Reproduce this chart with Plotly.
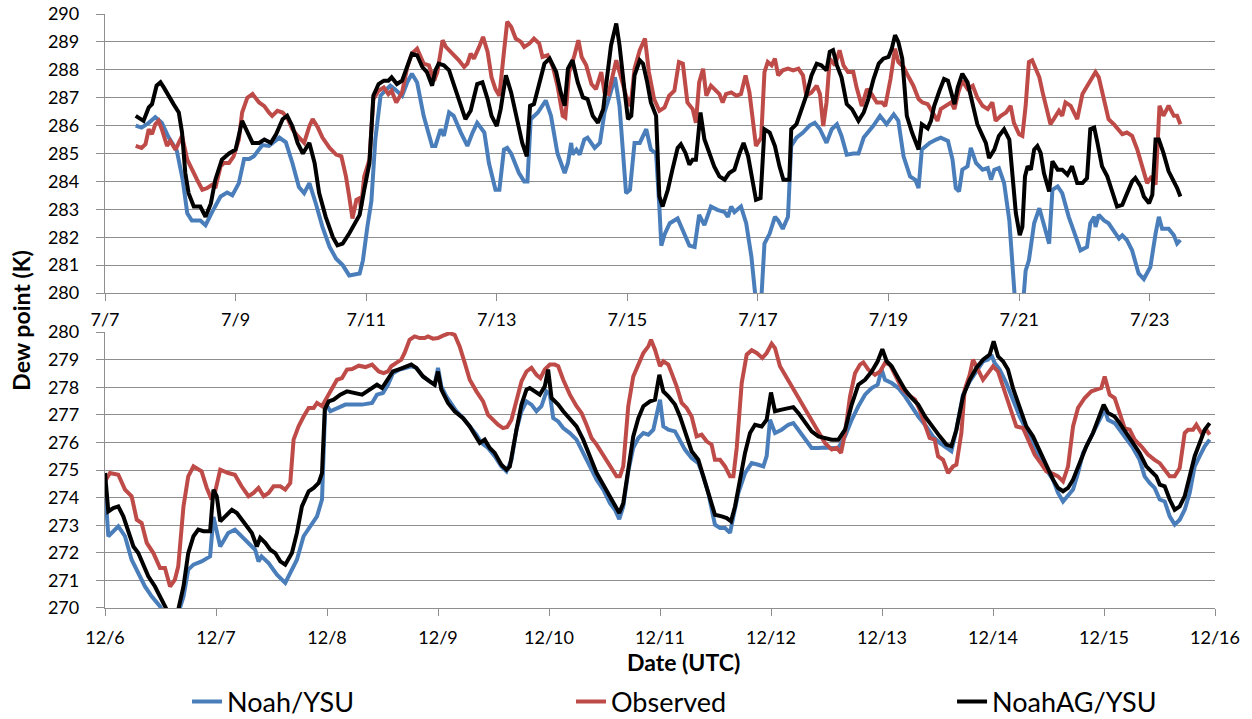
import pandas as pd
import plotly.graph_objects as go

# ---------------------------------------------------------------------------
# Dew point time series (K).  Each entry is (days since period start, value).
# ---------------------------------------------------------------------------
JULY_START = pd.Timestamp("2012-07-07")
DEC_START = pd.Timestamp("2012-12-06")

series_names = ["Noah/YSU", "Observed", "NoahAG/YSU"]

july_tick_labels = ["7/7", "7/9", "7/11", "7/13", "7/15", "7/17", "7/19", "7/21", "7/23"]
dec_tick_labels = ["12/6", "12/7", "12/8", "12/9", "12/10", "12/11", "12/12",
                   "12/13", "12/14", "12/15", "12/16"]

july_noah = [
    (0.47, 286.0), (0.56, 285.93), (0.67, 286.1), (0.77, 286.3), (0.87, 286.1), (0.97, 285.6),
    (1.10, 285.1), (1.19, 284.06), (1.26, 282.86), (1.33, 282.6), (1.46, 282.6), (1.54, 282.43),
    (1.64, 282.9), (1.77, 283.46), (1.87, 283.6), (1.95, 283.5), (2.05, 283.94), (2.13, 284.8),
    (2.21, 284.8), (2.28, 284.9), (2.41, 285.3), (2.51, 285.27), (2.67, 285.57), (2.77, 285.4),
    (2.87, 284.66), (2.97, 283.8), (3.05, 283.58), (3.13, 283.94), (3.23, 283.2), (3.33, 282.37),
    (3.44, 281.65), (3.54, 281.23), (3.64, 281.0), (3.74, 280.63), (3.90, 280.7), (3.95, 281.17),
    (4.02, 282.4), (4.08, 283.3), (4.14, 285.5), (4.22, 287.07), (4.29, 287.25), (4.37, 287.43),
    (4.44, 287.3), (4.55, 287.07), (4.63, 287.55), (4.70, 287.86), (4.78, 287.55), (4.88, 286.35),
    (5.01, 285.27), (5.06, 285.27), (5.14, 285.87), (5.19, 285.63), (5.27, 286.47), (5.34, 286.35),
    (5.45, 285.75), (5.55, 285.27), (5.63, 285.75), (5.70, 286.1), (5.81, 285.75), (5.88, 284.66),
    (5.98, 283.7), (6.04, 283.7), (6.11, 285.14), (6.16, 285.2), (6.22, 285.0), (6.34, 284.3),
    (6.42, 284.0), (6.47, 284.0), (6.52, 286.23), (6.63, 286.47), (6.75, 286.9), (6.83, 286.35),
    (6.93, 285.0), (7.04, 284.3), (7.09, 284.66), (7.14, 285.38), (7.16, 284.96), (7.22, 285.14),
    (7.27, 284.96), (7.34, 285.5), (7.39, 285.57), (7.50, 285.2), (7.58, 285.38), (7.65, 286.47),
    (7.73, 287.07), (7.81, 287.73), (7.88, 286.7), (7.98, 283.58), (8.04, 283.7), (8.11, 285.38),
    (8.19, 285.38), (8.29, 285.87), (8.36, 285.14), (8.44, 285.0), (8.49, 283.1), (8.52, 281.7),
    (8.57, 282.1), (8.65, 282.5), (8.77, 282.67), (8.87, 282.13), (8.95, 281.7), (9.03, 281.65),
    (9.10, 282.8), (9.18, 282.43), (9.28, 283.1), (9.38, 282.98), (9.49, 282.9), (9.54, 282.73),
    (9.59, 283.1), (9.64, 282.9), (9.74, 283.1), (9.82, 282.5), (9.90, 281.3), (9.96, 279.9),
    (9.98, 279.3), (10.04, 279.3), (10.06, 280.0), (10.10, 281.77), (10.18, 282.13), (10.26, 282.73),
    (10.31, 282.6), (10.38, 282.3), (10.46, 282.73), (10.51, 285.27), (10.59, 285.57), (10.69, 285.75),
    (10.79, 286.0), (10.87, 286.1), (10.95, 285.87), (11.05, 285.38), (11.13, 285.87), (11.21, 286.05),
    (11.28, 285.63), (11.36, 284.96), (11.46, 285.0), (11.54, 285.0), (11.62, 285.57), (11.69, 285.75),
    (11.77, 286.0), (11.87, 286.35), (11.97, 286.05), (12.08, 286.4), (12.15, 286.17), (12.23, 284.9),
    (12.33, 284.18), (12.41, 284.06), (12.46, 283.76), (12.51, 285.14), (12.63, 285.38), (12.73, 285.5),
    (12.80, 285.57), (12.91, 285.45), (12.98, 284.78), (13.03, 283.76), (13.08, 283.64), (13.13, 284.42),
    (13.21, 284.54), (13.26, 285.2), (13.34, 284.66), (13.44, 284.42), (13.52, 284.48), (13.57, 284.06),
    (13.62, 284.42), (13.69, 284.48), (13.77, 283.94), (13.85, 282.6), (13.92, 280.08), (13.95, 279.3),
    (14.05, 279.3), (14.08, 280.3), (14.10, 280.8), (14.15, 281.17), (14.23, 282.5), (14.31, 283.04),
    (14.38, 282.5), (14.46, 281.77), (14.51, 283.7), (14.59, 283.82), (14.66, 283.58), (14.76, 282.73),
    (14.87, 282.0), (14.94, 281.53), (15.04, 281.65), (15.09, 282.5), (15.15, 282.73), (15.17, 282.37),
    (15.22, 282.8), (15.30, 282.6), (15.37, 282.5), (15.45, 282.25), (15.53, 281.95), (15.58, 282.07),
    (15.65, 281.9), (15.73, 281.53), (15.83, 280.7), (15.91, 280.5), (16.01, 280.93), (16.09, 282.13),
    (16.14, 282.73), (16.19, 282.3), (16.29, 282.3), (16.37, 282.07), (16.42, 281.77), (16.47, 281.9),
]

july_obs = [
    (0.47, 285.27), (0.56, 285.2), (0.62, 285.33), (0.67, 285.87), (0.72, 285.69), (0.77, 286.05),
    (0.82, 286.17), (0.87, 285.87), (0.95, 285.27), (1.0, 285.45), (1.08, 285.14), (1.13, 285.38),
    (1.18, 285.63), (1.26, 284.78), (1.33, 284.42), (1.41, 284.06), (1.49, 283.7), (1.56, 283.76),
    (1.64, 283.88), (1.69, 283.76), (1.77, 284.54), (1.82, 284.66), (1.90, 284.66), (1.97, 284.9),
    (2.05, 285.5), (2.10, 286.47), (2.18, 287.0), (2.26, 287.13), (2.36, 286.83), (2.44, 286.7),
    (2.51, 286.47), (2.56, 286.35), (2.64, 286.53), (2.72, 286.47), (2.79, 286.29), (2.87, 285.87),
    (2.95, 285.63), (3.05, 285.38), (3.13, 285.98), (3.18, 286.23), (3.26, 285.93), (3.33, 285.57),
    (3.44, 285.2), (3.54, 284.96), (3.62, 284.9), (3.69, 284.18), (3.74, 283.46), (3.79, 282.67),
    (3.85, 283.34), (3.90, 283.4), (3.92, 283.04), (3.97, 284.18), (4.05, 284.78), (4.11, 286.95),
    (4.19, 287.25), (4.27, 287.37), (4.34, 287.13), (4.39, 287.25), (4.46, 286.83), (4.55, 287.19),
    (4.63, 288.1), (4.70, 288.58), (4.78, 288.76), (4.88, 288.22), (4.96, 288.16), (5.04, 287.61),
    (5.09, 287.92), (5.17, 289.06), (5.22, 288.82), (5.27, 288.7), (5.34, 288.58), (5.42, 288.34),
    (5.50, 288.1), (5.55, 288.22), (5.60, 288.58), (5.65, 288.4), (5.73, 288.82), (5.79, 289.18),
    (5.86, 288.64), (5.92, 287.73), (5.98, 287.31), (6.04, 287.07), (6.11, 288.64), (6.16, 289.72),
    (6.22, 289.54), (6.29, 289.12), (6.37, 289.0), (6.42, 288.82), (6.50, 288.94), (6.57, 289.12),
    (6.65, 288.94), (6.70, 288.46), (6.78, 288.52), (6.86, 288.1), (6.93, 287.43), (7.01, 286.35),
    (7.05, 286.29), (7.11, 287.92), (7.19, 288.52), (7.25, 289.06), (7.30, 288.46), (7.37, 288.16),
    (7.45, 287.49), (7.52, 287.31), (7.60, 287.92), (7.65, 287.19), (7.71, 287.13), (7.78, 287.92),
    (7.83, 288.34), (7.91, 287.67), (7.98, 287.07), (8.05, 286.7), (8.11, 288.04), (8.19, 288.7),
    (8.27, 289.12), (8.33, 287.92), (8.41, 286.95), (8.49, 286.53), (8.57, 286.65), (8.64, 287.07),
    (8.72, 287.25), (8.79, 288.28), (8.85, 288.22), (8.92, 286.83), (9.0, 286.59), (9.05, 286.1),
    (9.10, 287.55), (9.16, 288.04), (9.21, 287.07), (9.28, 287.43), (9.36, 287.25), (9.41, 287.13),
    (9.46, 286.83), (9.51, 287.13), (9.59, 287.19), (9.67, 287.07), (9.74, 287.13), (9.81, 287.8),
    (9.87, 287.19), (9.92, 286.1), (9.97, 285.27), (10.05, 285.57), (10.10, 287.92), (10.15, 288.28),
    (10.21, 288.16), (10.26, 288.4), (10.31, 287.8), (10.38, 287.98), (10.46, 288.04), (10.54, 287.98),
    (10.62, 288.04), (10.69, 287.8), (10.74, 287.07), (10.82, 287.19), (10.90, 287.43), (10.95, 287.13),
    (11.0, 285.98), (11.05, 286.83), (11.10, 288.4), (11.18, 288.16), (11.25, 288.7), (11.31, 288.16),
    (11.38, 287.92), (11.46, 287.92), (11.51, 287.37), (11.59, 286.7), (11.67, 287.31), (11.74, 287.13),
    (11.82, 286.83), (11.90, 286.83), (11.95, 286.7), (12.03, 287.67), (12.10, 288.76), (12.15, 288.28),
    (12.23, 288.1), (12.31, 287.73), (12.38, 287.43), (12.46, 286.95), (12.52, 286.83), (12.60, 286.77),
    (12.68, 286.47), (12.75, 286.17), (12.80, 286.59), (12.88, 286.71), (12.96, 286.83), (13.01, 286.59),
    (13.07, 287.19), (13.13, 287.61), (13.21, 287.31), (13.29, 287.43), (13.36, 287.0), (13.44, 286.71),
    (13.52, 286.59), (13.59, 286.83), (13.64, 286.17), (13.72, 286.35), (13.80, 286.47), (13.87, 286.71),
    (13.92, 286.1), (14.0, 285.69), (14.05, 285.63), (14.10, 286.71), (14.15, 288.28), (14.20, 288.34),
    (14.25, 288.04), (14.31, 287.73), (14.36, 287.19), (14.43, 286.59), (14.48, 286.05), (14.53, 286.23),
    (14.61, 286.53), (14.66, 286.35), (14.71, 286.83), (14.79, 286.71), (14.84, 286.47), (14.89, 286.23),
    (14.97, 287.13), (15.04, 287.43), (15.12, 287.73), (15.17, 287.92), (15.22, 287.73), (15.30, 286.95),
    (15.37, 286.23), (15.45, 286.05), (15.53, 285.81), (15.58, 285.69), (15.65, 285.75), (15.73, 285.63),
    (15.81, 285.14), (15.88, 284.54), (15.96, 283.94), (16.03, 284.18), (16.09, 283.88), (16.15, 286.71),
    (16.21, 286.35), (16.29, 286.71), (16.37, 286.35), (16.42, 286.35), (16.47, 286.05),
]

july_noahag = [
    (0.47, 286.35), (0.59, 286.17), (0.67, 286.65), (0.72, 286.77), (0.79, 287.43), (0.85, 287.55),
    (0.90, 287.37), (0.97, 287.07), (1.05, 286.77), (1.13, 286.47), (1.18, 285.75), (1.23, 284.3),
    (1.28, 283.58), (1.36, 283.1), (1.46, 283.1), (1.54, 282.73), (1.62, 283.2), (1.69, 284.06),
    (1.79, 284.78), (1.90, 285.0), (2.0, 285.14), (2.10, 286.17), (2.18, 285.75), (2.26, 285.38),
    (2.36, 285.38), (2.44, 285.5), (2.54, 285.38), (2.62, 285.69), (2.72, 286.23), (2.79, 286.35),
    (2.87, 285.98), (2.95, 285.38), (3.03, 285.0), (3.13, 285.38), (3.21, 284.66), (3.28, 283.58),
    (3.38, 282.73), (3.49, 282.0), (3.56, 281.71), (3.64, 281.77), (3.74, 282.13), (3.82, 282.5),
    (3.90, 282.8), (3.97, 283.7), (4.05, 284.66), (4.11, 287.07), (4.19, 287.49), (4.27, 287.61),
    (4.34, 287.61), (4.39, 287.73), (4.47, 287.49), (4.55, 287.61), (4.63, 288.16), (4.70, 288.58),
    (4.78, 288.52), (4.86, 288.1), (4.93, 287.92), (5.01, 287.43), (5.06, 287.98), (5.11, 288.22),
    (5.19, 288.16), (5.27, 287.98), (5.34, 287.49), (5.42, 286.95), (5.52, 286.23), (5.60, 286.53),
    (5.70, 287.49), (5.78, 287.55), (5.86, 286.95), (5.92, 286.35), (6.0, 285.98), (6.06, 286.59),
    (6.14, 287.8), (6.22, 287.19), (6.32, 286.1), (6.39, 285.38), (6.46, 284.9), (6.51, 286.71),
    (6.57, 286.77), (6.65, 287.43), (6.73, 288.22), (6.81, 288.4), (6.91, 287.92), (6.98, 287.19),
    (7.04, 286.71), (7.09, 288.04), (7.16, 288.34), (7.24, 287.55), (7.32, 287.01), (7.39, 286.95),
    (7.47, 286.35), (7.55, 286.1), (7.63, 286.59), (7.68, 287.55), (7.75, 288.88), (7.83, 289.66),
    (7.88, 288.88), (7.96, 287.19), (8.01, 286.23), (8.06, 286.35), (8.11, 287.8), (8.19, 288.34),
    (8.24, 288.22), (8.30, 287.6), (8.36, 286.83), (8.44, 286.35), (8.49, 283.46), (8.54, 283.1),
    (8.62, 283.7), (8.69, 284.42), (8.77, 285.2), (8.82, 285.33), (8.89, 285.02), (8.95, 284.6),
    (9.0, 284.78), (9.05, 284.78), (9.12, 286.47), (9.18, 285.51), (9.26, 285.02), (9.33, 284.54),
    (9.41, 284.18), (9.49, 284.06), (9.56, 284.3), (9.64, 284.42), (9.72, 285.02), (9.78, 285.38),
    (9.85, 284.9), (9.91, 284.06), (9.97, 283.34), (10.04, 283.4), (10.10, 285.87), (10.18, 285.75),
    (10.26, 285.27), (10.33, 284.54), (10.39, 284.06), (10.48, 284.06), (10.51, 285.87), (10.59, 286.05),
    (10.67, 286.59), (10.74, 287.07), (10.82, 287.8), (10.90, 288.22), (10.97, 288.16), (11.05, 287.98),
    (11.10, 288.64), (11.15, 288.7), (11.21, 288.16), (11.28, 287.73), (11.36, 286.77), (11.44, 286.59),
    (11.54, 286.17), (11.62, 286.47), (11.69, 286.95), (11.77, 287.67), (11.85, 288.22), (11.92, 288.4),
    (12.0, 288.46), (12.05, 288.76), (12.10, 289.24), (12.15, 289.0), (12.21, 288.4), (12.28, 286.35),
    (12.36, 285.75), (12.44, 285.27), (12.46, 285.14), (12.51, 286.05), (12.60, 285.9), (12.65, 286.17),
    (12.70, 286.71), (12.78, 287.25), (12.85, 287.67), (12.91, 287.61), (12.96, 287.13), (13.01, 286.77),
    (13.06, 287.37), (13.13, 287.86), (13.21, 287.55), (13.29, 286.71), (13.36, 286.05), (13.44, 285.63),
    (13.49, 285.38), (13.54, 284.84), (13.62, 285.14), (13.69, 285.63), (13.77, 285.87), (13.85, 285.5),
    (13.90, 284.06), (13.95, 282.86), (14.01, 282.07), (14.05, 282.37), (14.09, 284.18), (14.13, 284.54),
    (14.18, 284.42), (14.23, 285.14), (14.28, 285.27), (14.33, 285.02), (14.38, 284.3), (14.46, 283.64),
    (14.51, 284.72), (14.59, 284.42), (14.66, 284.42), (14.74, 284.24), (14.81, 284.54), (14.89, 283.94),
    (14.97, 283.94), (15.04, 284.12), (15.09, 285.87), (15.15, 285.93), (15.20, 285.38), (15.27, 284.54),
    (15.35, 284.18), (15.42, 283.64), (15.50, 283.1), (15.58, 283.16), (15.65, 283.58), (15.73, 284.0),
    (15.78, 284.12), (15.86, 283.82), (15.91, 283.46), (15.99, 283.22), (16.04, 283.52), (16.09, 285.5),
    (16.14, 285.5), (16.21, 285.02), (16.29, 284.36), (16.37, 284.0), (16.42, 283.76), (16.47, 283.46),
]

dec_noah = [
    (0.0, 274.4), (0.03, 272.6), (0.12, 272.96), (0.18, 272.6), (0.24, 271.75), (0.30, 271.27),
    (0.36, 270.78), (0.42, 270.42), (0.496, 270.06), (0.54, 269.7), (0.66, 269.8), (0.707, 270.42),
    (0.75, 271.39), (0.797, 271.57), (0.87, 271.69), (0.947, 271.87), (0.977, 273.3), (1.038, 272.23),
    (1.11, 272.72), (1.17, 272.84), (1.23, 272.6), (1.293, 272.36), (1.353, 272.11), (1.383, 271.69),
    (1.41, 271.87), (1.474, 271.63), (1.549, 271.21), (1.624, 270.91), (1.684, 271.39), (1.729, 271.75),
    (1.789, 272.6), (1.85, 272.96), (1.91, 273.32), (1.955, 273.93), (1.985, 277.43), (2.03, 277.13),
    (2.09, 277.25), (2.165, 277.37), (2.256, 277.37), (2.316, 277.37), (2.406, 277.43), (2.45, 277.73),
    (2.504, 277.79), (2.549, 278.09), (2.594, 278.51), (2.654, 278.64), (2.714, 278.70), (2.759, 278.76),
    (2.805, 278.70), (2.865, 278.39), (2.925, 278.21), (2.970, 278.09), (3.0, 278.70), (3.030, 278.03),
    (3.075, 277.67), (3.120, 277.37), (3.165, 277.13), (3.226, 276.88), (3.286, 276.58), (3.346, 276.28),
    (3.391, 275.98), (3.451, 275.80), (3.511, 275.50), (3.571, 275.13), (3.617, 274.95), (3.662, 275.37),
    (3.707, 276.46), (3.752, 277.13), (3.797, 277.49), (3.842, 277.37), (3.887, 277.13), (3.932, 277.31),
    (3.977, 277.85), (4.008, 277.73), (4.038, 276.88), (4.083, 276.76), (4.128, 276.52), (4.188, 276.34),
    (4.248, 276.10), (4.308, 275.62), (4.368, 275.13), (4.429, 274.65), (4.489, 274.29), (4.549, 273.80),
    (4.594, 273.56), (4.633, 273.22), (4.669, 273.68), (4.714, 274.95), (4.759, 275.80), (4.805, 276.16),
    (4.850, 276.34), (4.895, 276.28), (4.940, 276.46), (4.970, 276.94), (5.0, 277.55), (5.030, 276.58),
    (5.075, 276.46), (5.135, 276.40), (5.180, 276.10), (5.225, 275.74), (5.285, 275.43), (5.345, 275.25),
    (5.390, 274.77), (5.435, 274.17), (5.495, 273.02), (5.541, 272.90), (5.586, 272.90), (5.631, 272.72),
    (5.661, 273.32), (5.706, 274.17), (5.766, 274.89), (5.826, 275.25), (5.886, 275.19), (5.931, 275.13),
    (5.961, 275.50), (5.991, 276.82), (6.036, 276.34), (6.096, 276.46), (6.156, 276.64), (6.201, 276.70),
    (6.246, 276.46), (6.306, 276.10), (6.366, 275.80), (6.426, 275.80), (6.486, 275.82), (6.547, 275.80),
    (6.607, 275.80), (6.667, 276.22), (6.727, 276.82), (6.787, 277.31), (6.847, 277.73), (6.907, 277.97),
    (6.961, 278.09), (6.997, 278.64), (7.027, 278.27), (7.087, 278.15), (7.147, 277.97), (7.207, 277.67),
    (7.267, 277.31), (7.327, 276.94), (7.399, 276.58), (7.459, 276.22), (7.520, 275.98), (7.580, 275.80),
    (7.625, 275.68), (7.670, 276.46), (7.730, 277.73), (7.790, 278.21), (7.850, 278.57), (7.910, 278.94),
    (7.955, 279.0), (7.985, 279.18), (8.015, 278.88), (8.060, 278.64), (8.120, 278.15), (8.180, 277.55),
    (8.240, 276.94), (8.300, 276.46), (8.360, 275.98), (8.420, 275.50), (8.480, 275.01), (8.541, 274.65),
    (8.586, 274.17), (8.631, 273.86), (8.676, 274.05), (8.721, 274.29), (8.766, 274.89), (8.811, 275.62),
    (8.871, 276.10), (8.931, 276.58), (8.976, 277.0), (9.006, 277.19), (9.036, 276.82), (9.096, 276.70),
    (9.141, 276.46), (9.201, 276.10), (9.261, 275.80), (9.321, 275.37), (9.366, 274.77), (9.411, 274.53),
    (9.456, 274.35), (9.502, 273.93), (9.547, 273.86), (9.592, 273.32), (9.637, 273.02), (9.682, 273.20),
    (9.727, 273.56), (9.772, 274.17), (9.817, 275.13), (9.862, 275.50), (9.907, 275.86), (9.952, 276.10),
]

dec_obs = [
    (0.0, 274.59), (0.045, 274.89), (0.12, 274.83), (0.18, 274.29), (0.24, 274.05), (0.286, 273.20),
    (0.33, 273.08), (0.376, 272.36), (0.436, 271.99), (0.496, 271.45), (0.54, 271.45), (0.586, 270.78),
    (0.63, 271.03), (0.66, 271.51), (0.707, 273.68), (0.75, 274.77), (0.797, 275.13), (0.87, 274.95),
    (0.917, 274.35), (0.96, 273.93), (0.99, 274.17), (1.038, 275.01), (1.11, 274.89), (1.17, 274.83),
    (1.23, 274.41), (1.293, 274.05), (1.338, 274.17), (1.383, 274.35), (1.43, 274.05), (1.474, 274.17),
    (1.519, 274.41), (1.579, 274.41), (1.624, 274.29), (1.669, 274.53), (1.699, 276.10), (1.744, 276.58),
    (1.789, 276.94), (1.835, 277.25), (1.88, 277.25), (1.91, 277.43), (1.955, 277.31), (2.0, 277.61),
    (2.045, 277.91), (2.09, 278.27), (2.135, 278.33), (2.18, 278.64), (2.226, 278.66), (2.286, 278.78),
    (2.346, 278.73), (2.406, 278.82), (2.466, 278.57), (2.51, 278.51), (2.549, 278.57), (2.579, 278.76),
    (2.624, 278.88), (2.669, 279.0), (2.699, 279.24), (2.744, 279.72), (2.789, 279.84), (2.835, 279.78),
    (2.880, 279.78), (2.910, 279.84), (2.955, 279.76), (3.0, 279.78), (3.045, 279.87), (3.105, 279.96),
    (3.150, 279.90), (3.195, 279.48), (3.241, 278.88), (3.286, 278.27), (3.346, 277.85), (3.406, 277.49),
    (3.451, 277.0), (3.496, 276.82), (3.541, 276.64), (3.586, 276.52), (3.623, 276.56), (3.662, 276.82),
    (3.707, 277.55), (3.752, 278.21), (3.797, 278.57), (3.842, 278.70), (3.887, 278.45), (3.923, 278.33),
    (3.962, 278.64), (4.008, 278.82), (4.053, 278.82), (4.083, 278.76), (4.128, 278.27), (4.188, 277.73),
    (4.248, 277.31), (4.293, 277.07), (4.338, 276.64), (4.383, 276.16), (4.429, 275.92), (4.474, 275.62),
    (4.519, 275.31), (4.564, 275.01), (4.609, 274.77), (4.639, 274.77), (4.669, 275.13), (4.714, 277.31),
    (4.759, 278.39), (4.805, 278.82), (4.850, 279.24), (4.895, 279.48), (4.919, 279.72), (4.955, 279.36),
    (5.0, 278.76), (5.030, 278.94), (5.075, 278.82), (5.105, 278.51), (5.150, 278.03), (5.195, 277.43),
    (5.240, 277.25), (5.285, 276.94), (5.330, 276.22), (5.375, 276.28), (5.420, 276.04), (5.465, 275.92),
    (5.495, 275.37), (5.541, 275.37), (5.586, 275.13), (5.631, 274.77), (5.661, 274.77), (5.691, 275.80),
    (5.736, 278.15), (5.781, 279.18), (5.826, 279.34), (5.871, 279.24), (5.922, 279.06), (5.961, 279.24),
    (6.006, 279.58), (6.036, 279.42), (6.081, 278.76), (6.126, 278.45), (6.186, 278.03), (6.246, 277.61),
    (6.306, 277.19), (6.366, 276.76), (6.426, 276.34), (6.486, 275.98), (6.547, 275.74), (6.592, 275.80),
    (6.631, 275.62), (6.667, 276.34), (6.712, 277.67), (6.757, 278.51), (6.802, 278.82), (6.832, 278.90),
    (6.877, 278.64), (6.937, 278.45), (6.982, 278.57), (7.027, 278.88), (7.072, 278.82), (7.117, 278.45),
    (7.177, 277.97), (7.237, 277.73), (7.297, 277.55), (7.339, 277.19), (7.384, 276.70), (7.429, 276.16),
    (7.474, 276.10), (7.505, 275.50), (7.550, 275.37), (7.595, 274.89), (7.640, 275.13), (7.670, 275.19),
    (7.715, 276.34), (7.745, 277.91), (7.790, 278.45), (7.820, 279.0), (7.865, 278.64), (7.910, 278.27),
    (7.955, 278.51), (8.0, 278.76), (8.045, 278.57), (8.090, 278.03), (8.150, 277.31), (8.210, 276.58),
    (8.270, 276.52), (8.330, 275.92), (8.375, 275.56), (8.420, 275.31), (8.480, 274.95), (8.541, 274.86),
    (8.586, 274.77), (8.631, 274.59), (8.676, 275.13), (8.721, 276.58), (8.766, 277.25), (8.826, 277.61),
    (8.886, 277.85), (8.931, 277.91), (8.976, 277.97), (9.006, 278.39), (9.051, 277.73), (9.096, 277.61),
    (9.141, 277.07), (9.186, 276.52), (9.231, 276.46), (9.276, 276.10), (9.336, 275.86), (9.396, 275.56),
    (9.456, 275.37), (9.502, 275.25), (9.547, 275.01), (9.592, 274.77), (9.637, 274.77), (9.682, 275.07),
    (9.727, 276.34), (9.757, 276.46), (9.802, 276.46), (9.832, 276.64), (9.877, 276.34), (9.922, 276.46),
    (9.952, 276.28),
]

dec_noahag = [
    (0.0, 274.89), (0.03, 273.50), (0.075, 273.62), (0.12, 273.68), (0.165, 273.32), (0.21, 272.72),
    (0.256, 272.23), (0.30, 271.99), (0.346, 271.57), (0.39, 271.15), (0.45, 270.78), (0.496, 270.42),
    (0.556, 269.94), (0.60, 269.82), (0.66, 269.94), (0.707, 270.78), (0.75, 271.99), (0.797, 272.60),
    (0.84, 272.84), (0.887, 272.78), (0.947, 272.78), (0.977, 274.29), (1.007, 274.05), (1.038, 273.14),
    (1.083, 273.32), (1.143, 273.56), (1.188, 273.44), (1.23, 273.20), (1.278, 272.96), (1.323, 272.72),
    (1.368, 272.23), (1.398, 272.54), (1.444, 272.36), (1.489, 272.11), (1.534, 271.99), (1.579, 271.69),
    (1.624, 271.57), (1.684, 271.99), (1.729, 272.72), (1.774, 273.68), (1.835, 274.23), (1.88, 274.35),
    (1.925, 274.53), (1.955, 274.89), (1.98, 277.19), (2.015, 277.49), (2.06, 277.55), (2.12, 277.73),
    (2.18, 277.85), (2.24, 277.79), (2.316, 277.73), (2.36, 277.85), (2.406, 277.97), (2.45, 278.09),
    (2.496, 277.97), (2.549, 278.27), (2.594, 278.57), (2.654, 278.66), (2.714, 278.76), (2.759, 278.82),
    (2.805, 278.70), (2.865, 278.39), (2.925, 278.21), (2.970, 278.09), (3.0, 278.57), (3.030, 277.91),
    (3.090, 277.43), (3.150, 277.13), (3.226, 276.88), (3.286, 276.58), (3.331, 276.28), (3.376, 275.98),
    (3.421, 276.10), (3.466, 275.80), (3.511, 275.62), (3.571, 275.19), (3.617, 275.01), (3.647, 275.13),
    (3.707, 276.46), (3.752, 277.37), (3.797, 277.91), (3.827, 277.97), (3.872, 277.85), (3.917, 277.73),
    (3.962, 278.03), (3.992, 278.64), (4.023, 277.61), (4.083, 277.37), (4.128, 277.13), (4.188, 276.88),
    (4.248, 276.58), (4.308, 276.10), (4.368, 275.50), (4.429, 274.89), (4.489, 274.47), (4.549, 274.05),
    (4.594, 273.74), (4.633, 273.44), (4.669, 273.80), (4.714, 275.13), (4.759, 276.22), (4.805, 276.88),
    (4.850, 277.31), (4.910, 277.49), (4.955, 277.55), (4.994, 278.45), (5.030, 277.85), (5.075, 277.67),
    (5.135, 277.37), (5.180, 276.94), (5.225, 276.40), (5.285, 275.68), (5.345, 275.37), (5.390, 274.77),
    (5.435, 274.17), (5.495, 273.38), (5.556, 273.32), (5.601, 273.26), (5.640, 273.14), (5.676, 273.68),
    (5.721, 274.65), (5.766, 275.62), (5.811, 276.34), (5.856, 276.64), (5.916, 276.58), (5.961, 276.82),
    (6.0, 277.81), (6.036, 277.13), (6.096, 277.19), (6.156, 277.25), (6.201, 277.28), (6.246, 277.07),
    (6.306, 276.76), (6.366, 276.40), (6.426, 276.22), (6.486, 276.16), (6.547, 276.10), (6.607, 276.10),
    (6.667, 276.46), (6.727, 277.37), (6.787, 278.09), (6.847, 278.27), (6.907, 278.57), (6.961, 278.94),
    (7.003, 279.38), (7.042, 278.94), (7.087, 278.76), (7.147, 278.33), (7.207, 277.91), (7.267, 277.61),
    (7.327, 277.37), (7.387, 276.94), (7.459, 276.52), (7.520, 276.22), (7.580, 275.92), (7.625, 275.86),
    (7.670, 276.46), (7.730, 277.67), (7.790, 278.27), (7.850, 278.70), (7.910, 279.0), (7.970, 279.18),
    (8.006, 279.66), (8.045, 279.12), (8.090, 278.94), (8.135, 278.64), (8.180, 277.97), (8.240, 277.31),
    (8.300, 276.58), (8.360, 276.22), (8.420, 275.68), (8.480, 275.13), (8.541, 274.65), (8.586, 274.35),
    (8.631, 274.23), (8.676, 274.35), (8.721, 274.65), (8.781, 275.25), (8.841, 275.86), (8.901, 276.34),
    (8.961, 276.94), (8.997, 277.37), (9.036, 277.07), (9.096, 276.94), (9.141, 276.70), (9.201, 276.34),
    (9.261, 276.04), (9.321, 275.62), (9.381, 275.13), (9.441, 274.89), (9.471, 274.77), (9.502, 274.47),
    (9.547, 274.41), (9.592, 273.93), (9.637, 273.56), (9.682, 273.68), (9.727, 274.05), (9.772, 274.77),
    (9.817, 275.50), (9.862, 275.98), (9.907, 276.46), (9.952, 276.70),
]

# ---------------------------------------------------------------------------
# Styling
# ---------------------------------------------------------------------------
COLORS = ["#4A7EBB", "#BE4B48", "#000000"]
GRID = "#8E8E8E"
FONT = "Lato, 'Open Sans', sans-serif"
LINE_W = 4
LEGEND_IDS = ["legend", "legend2", "legend3"]
LEGEND_X = [0.0739, 0.4198, 0.7631]


def to_times(start, rows):
    return start + pd.to_timedelta([r[0] for r in rows], unit="D")


def values(rows):
    return [r[1] for r in rows]


fig = go.Figure()

july_sets = [july_noah, july_obs, july_noahag]
dec_sets = [dec_noah, dec_obs, dec_noahag]

for name, color, rows, leg in zip(series_names, COLORS, july_sets, LEGEND_IDS):
    fig.add_trace(go.Scatter(
        x=to_times(JULY_START, rows), y=values(rows), name=name, mode="lines",
        line=dict(color=color, width=LINE_W), xaxis="x", yaxis="y",
        legendgroup=name, showlegend=True, legend=leg,
    ))

for name, color, rows in zip(series_names, COLORS, dec_sets):
    fig.add_trace(go.Scatter(
        x=to_times(DEC_START, rows), y=values(rows), name=name, mode="lines",
        line=dict(color=color, width=LINE_W), xaxis="x2", yaxis="y2",
        legendgroup=name, showlegend=False,
    ))

july_ticks = JULY_START + pd.to_timedelta(range(0, 2 * len(july_tick_labels), 2), unit="D")
dec_ticks = DEC_START + pd.to_timedelta(range(len(dec_tick_labels)), unit="D")

tick_font = dict(family=FONT, size=18, color="black")

common_x = dict(
    type="date", ticks="outside", ticklen=7, tickwidth=1.3, tickcolor=GRID,
    showline=True, linecolor=GRID, linewidth=1.3, showgrid=False, zeroline=False,
    tickfont=tick_font, automargin=False,
)
common_y = dict(
    dtick=1, ticks="outside", ticklen=8, tickwidth=1.3, tickcolor=GRID,
    showline=True, linecolor=GRID, linewidth=1.3, showgrid=True, gridcolor=GRID,
    gridwidth=1.3, zeroline=False, tickfont=tick_font, ticklabelstandoff=13,
    automargin=False,
)

legend_style = dict(
    orientation="h", y=-0.158, xanchor="left", yanchor="middle",
    font=dict(family=FONT, size=27, color="black"), bgcolor="rgba(0,0,0,0)",
)

fig.update_layout(
    width=1252, height=719,
    margin=dict(l=105, r=37, t=14, b=111, autoexpand=False),
    paper_bgcolor="white", plot_bgcolor="white",
    font=dict(family=FONT, size=17, color="black"),
    xaxis=dict(common_x, anchor="y", domain=[0, 1], ticklabelstandoff=3,
               range=[JULY_START, JULY_START + pd.Timedelta(days=17)],
               tickvals=july_ticks, ticktext=july_tick_labels),
    yaxis=dict(common_y, anchor="x", domain=[0.5303, 1], range=[280, 290]),
    xaxis2=dict(common_x, anchor="y2", domain=[0, 1], ticklabelstandoff=6,
                range=[DEC_START, DEC_START + pd.Timedelta(days=10)],
                tickvals=dec_ticks, ticktext=dec_tick_labels),
    yaxis2=dict(common_y, anchor="x2", domain=[0, 0.4646], range=[270, 280]),
    legend=dict(legend_style, x=LEGEND_X[0]),
    legend2=dict(legend_style, x=LEGEND_X[1]),
    legend3=dict(legend_style, x=LEGEND_X[2]),
    annotations=[
        dict(text="<b>Date (UTC)</b>", xref="paper", yref="paper", x=0.5216, y=-0.091,
             showarrow=False, font=dict(family=FONT, size=23, color="black"),
             xanchor="center", yanchor="middle"),
        dict(text="<b>Dew point (K)</b>", xref="paper", yref="paper", x=-0.076, y=0.4848,
             textangle=-90, showarrow=False, font=dict(family=FONT, size=23, color="black"),
             xanchor="center", yanchor="middle"),
    ],
)

fig.write_html("out.html")
